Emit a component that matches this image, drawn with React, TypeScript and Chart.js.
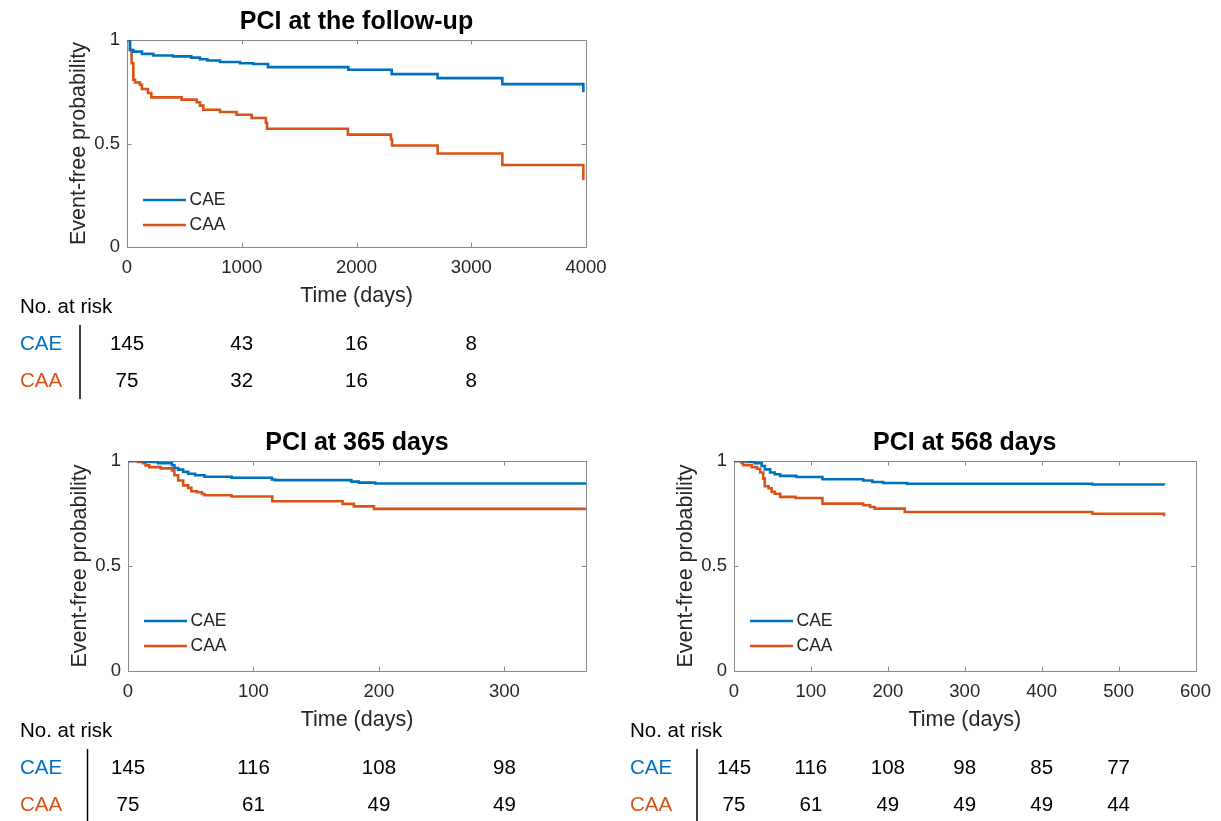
import React, { useEffect, useRef } from 'react';
import { Chart, registerables } from 'chart.js';

Chart.register(...registerables);

const FONT = '"Liberation Sans", Arial, Helvetica, sans-serif';
const BLUE = '#0072BD';
const ORANGE = '#D95319';
const TEXT = '#262626';
const FRAME = '#8a8a8a';

const seriesNames = ['CAE', 'CAA'];

// ---- PCI at the follow-up ----
const fuCaeTimes = [0, 26, 55, 130, 230, 400, 560, 636, 700, 810, 985, 1100, 1229, 1929, 2307, 2707, 3271, 3977];
const fuCaeSurv = [1, 0.952, 0.944, 0.933, 0.925, 0.921, 0.915, 0.907, 0.901, 0.894, 0.888, 0.884, 0.869, 0.856, 0.835, 0.816, 0.787, 0.748];
const fuCaaTimes = [0, 26, 40, 55, 70, 113, 130, 183, 212, 476, 607, 636, 665, 810, 955, 1086, 1210, 1220, 1925, 2300, 2310, 2707, 3271, 3977];
const fuCaaSurv = [1, 0.952, 0.888, 0.808, 0.795, 0.784, 0.763, 0.744, 0.723, 0.712, 0.699, 0.683, 0.663, 0.652, 0.639, 0.623, 0.6, 0.571, 0.543, 0.519, 0.49, 0.452, 0.396, 0.322];
const fuRiskTimes = [0, 1000, 2000, 3000];
const fuRiskCae = [145, 43, 16, 8];
const fuRiskCaa = [75, 32, 16, 8];
const fuXTicks = { max: 4000, step: 1000 };

// ---- PCI at 365 days ----
const d365CaeTimes = [0, 13.5, 24, 35, 37, 40, 44, 48, 53.5, 61, 82.6, 114.7, 117, 178, 184, 197, 365];
const d365CaeSurv = [1, 0.996, 0.99, 0.98, 0.967, 0.959, 0.948, 0.939, 0.932, 0.925, 0.92, 0.912, 0.909, 0.902, 0.897, 0.893, 0.893];
const d365CaaTimes = [0, 8, 12, 14, 17, 26, 35, 37, 40, 44, 48, 50.5, 55, 59, 61, 82.6, 115, 171, 180, 196, 365];
const d365CaaSurv = [1, 0.996, 0.99, 0.979, 0.971, 0.965, 0.955, 0.932, 0.907, 0.884, 0.872, 0.856, 0.851, 0.843, 0.837, 0.831, 0.808, 0.796, 0.784, 0.772, 0.772];
const d365RiskTimes = [0, 100, 200, 300];
const d365RiskCae = [145, 116, 108, 98];
const d365RiskCaa = [75, 61, 49, 49];
const d365XTicks = { max: 365, step: 100 };

// ---- PCI at 568 days ----
const d568CaeTimes = [0, 16, 27, 36, 40, 47, 53, 60, 81, 115, 168, 180, 194, 225, 466, 559];
const d568CaeSurv = [1, 0.996, 0.99, 0.976, 0.96, 0.945, 0.937, 0.929, 0.924, 0.913, 0.907, 0.9, 0.895, 0.892, 0.888, 0.884];
const d568CaaTimes = [0, 10, 12, 23, 30, 34, 38, 40, 45, 49, 53, 60, 80, 115, 168, 177, 183, 222, 466, 559];
const d568CaaSurv = [1, 0.99, 0.98, 0.971, 0.963, 0.945, 0.916, 0.88, 0.87, 0.853, 0.844, 0.829, 0.824, 0.797, 0.789, 0.781, 0.773, 0.757, 0.749, 0.737];
const d568RiskTimes = [0, 100, 200, 300, 400, 500];
const d568RiskCae = [145, 116, 108, 98, 85, 77];
const d568RiskCaa = [75, 61, 49, 49, 49, 44];
const d568XTicks = { max: 600, step: 100 };

type Panel = {
  title: string;
  caeT: number[]; caeS: number[]; caaT: number[]; caaS: number[];
  riskT: number[]; riskCae: number[]; riskCaa: number[];
  xMax: number; xStep: number;
  left: number; top: number; w: number; h: number;
  aLeft: number; aRight: number; aTop: number; aBottom: number;
  sepX: number; titleTop: number;
};

const panels: Panel[] = [
  {
    title: 'PCI at the follow-up',
    caeT: fuCaeTimes, caeS: fuCaeSurv, caaT: fuCaaTimes, caaS: fuCaaSurv,
    riskT: fuRiskTimes, riskCae: fuRiskCae, riskCaa: fuRiskCaa,
    xMax: fuXTicks.max, xStep: fuXTicks.step,
    left: 0, top: 0, w: 610, h: 410,
    aLeft: 127, aRight: 586, aTop: 40, aBottom: 247, sepX: 80, titleTop: 7,
  },
  {
    title: 'PCI at 365 days',
    caeT: d365CaeTimes, caeS: d365CaeSurv, caaT: d365CaaTimes, caaS: d365CaaSurv,
    riskT: d365RiskTimes, riskCae: d365RiskCae, riskCaa: d365RiskCaa,
    xMax: d365XTicks.max, xStep: d365XTicks.step,
    left: 0, top: 420, w: 610, h: 401,
    aLeft: 128, aRight: 586, aTop: 41, aBottom: 251, sepX: 87.5, titleTop: 8,
  },
  {
    title: 'PCI at 568 days',
    caeT: d568CaeTimes, caeS: d568CaeSurv, caaT: d568CaaTimes, caaS: d568CaaSurv,
    riskT: d568RiskTimes, riskCae: d568RiskCae, riskCaa: d568RiskCaa,
    xMax: d568XTicks.max, xStep: d568XTicks.step,
    left: 610, top: 420, w: 611, h: 401,
    aLeft: 124, aRight: 585.5, aTop: 41, aBottom: 251, sepX: 87, titleTop: 8,
  },
];

const X_AXIS_H = 70;
const TICK_LEN = 4.5;
const LINE_W = 2.6;

function makeDecor(p: Panel) {
  return {
    id: 'kmDecor',
    beforeDatasetsDraw(chart: any) {
      const { ctx, chartArea: a, scales } = chart;
      const x = scales.x, y = scales.y;
      ctx.save();
      ctx.strokeStyle = FRAME;
      ctx.lineWidth = 1;
      ctx.strokeRect(Math.round(a.left) + 0.5, Math.round(a.top) + 0.5, Math.round(a.right - a.left), Math.round(a.bottom - a.top));
      ctx.beginPath();
      x.ticks.forEach((t: any) => {
        const px = Math.round(x.getPixelForValue(t.value)) + 0.5;
        ctx.moveTo(px, a.bottom); ctx.lineTo(px, a.bottom - TICK_LEN);
        ctx.moveTo(px, a.top); ctx.lineTo(px, a.top + TICK_LEN);
      });
      y.ticks.forEach((t: any) => {
        const py = Math.round(y.getPixelForValue(t.value)) + 0.5;
        ctx.moveTo(a.left, py); ctx.lineTo(a.left + TICK_LEN, py);
        ctx.moveTo(a.right, py); ctx.lineTo(a.right - TICK_LEN, py);
      });
      ctx.stroke();
      ctx.restore();
    },
    afterDraw(chart: any) {
      const { ctx, chartArea: a, scales } = chart;
      const x = scales.x;
      ctx.save();
      // legend
      const cols = [BLUE, ORANGE];
      ctx.font = `17.5px ${FONT}`;
      ctx.textBaseline = 'middle';
      ctx.textAlign = 'left';
      chart.data.datasets.forEach((ds: any, i: number) => {
        const ly = a.top + 160 + i * 25;
        ctx.strokeStyle = cols[i];
        ctx.lineWidth = LINE_W;
        ctx.beginPath();
        ctx.moveTo(a.left + 16, ly);
        ctx.lineTo(a.left + 59, ly);
        ctx.stroke();
        ctx.fillStyle = TEXT;
        ctx.fillText(ds.label, a.left + 62.5, ly);
      });
      // risk table
      ctx.font = `20.5px ${FONT}`;
      ctx.fillStyle = '#000';
      ctx.fillText('No. at risk', 20, a.bottom + 60);
      const rows = [p.riskCae, p.riskCaa];
      rows.forEach((vals, r) => {
        const ry = a.bottom + 97 + r * 37;
        ctx.textAlign = 'left';
        ctx.fillStyle = cols[r];
        ctx.fillText(seriesNames[r], 20, ry);
        ctx.textAlign = 'center';
        ctx.fillStyle = '#000';
        vals.forEach((v, k) => {
          ctx.fillText(String(v), x.getPixelForValue(p.riskT[k]), ry);
        });
      });
      ctx.strokeStyle = '#000';
      ctx.lineWidth = 1.5;
      ctx.beginPath();
      ctx.moveTo(p.sepX, a.bottom + 78);
      ctx.lineTo(p.sepX, a.bottom + 152);
      ctx.stroke();
      ctx.restore();
    },
  };
}

function KMPanel({ p }: { p: Panel }) {
  const ref = useRef<HTMLCanvasElement>(null);
  useEffect(() => {
    const canvas = ref.current!;
    const fmt = (v: any) => String(v);
    const chart = new Chart(canvas, {
      type: 'line',
      data: {
        datasets: [
          {
            label: seriesNames[0],
            data: p.caeT.map((t, i) => ({ x: t, y: p.caeS[i] })),
            borderColor: BLUE,
            backgroundColor: BLUE,
            borderWidth: LINE_W,
            pointRadius: 0,
            stepped: true,
            fill: false,
          },
          {
            label: seriesNames[1],
            data: p.caaT.map((t, i) => ({ x: t, y: p.caaS[i] })),
            borderColor: ORANGE,
            backgroundColor: ORANGE,
            borderWidth: LINE_W,
            pointRadius: 0,
            stepped: true,
            fill: false,
          },
        ],
      },
      options: {
        animation: false,
        responsive: false,
        devicePixelRatio: 1,
        events: [],
        layout: {
          padding: { left: 0, top: 0, right: p.w - p.aRight, bottom: p.h - p.aBottom - X_AXIS_H },
        },
        plugins: {
          legend: { display: false },
          tooltip: { enabled: false },
          title: {
            display: true,
            text: p.title,
            fullSize: false,
            color: '#000',
            font: { family: FONT, size: 25, weight: 'bold', lineHeight: 1.2 },
            padding: { top: p.titleTop, bottom: p.aTop - 30 - p.titleTop },
          },
        },
        scales: {
          x: {
            type: 'linear',
            min: 0,
            max: p.xMax,
            ticks: {
              stepSize: p.xStep,
              includeBounds: false,
              autoSkip: false,
              maxRotation: 0,
              padding: 9.8,
              color: TEXT,
              font: { family: FONT, size: 18.5, lineHeight: 1.2 },
              callback: fmt,
            },
            grid: { display: false, drawTicks: false },
            border: { display: false },
            title: {
              display: true,
              text: 'Time (days)',
              color: TEXT,
              font: { family: FONT, size: 21.5, lineHeight: 1.2 },
              padding: { top: 0, bottom: 8 },
            },
            afterFit: (s: any) => {
              s.height = X_AXIS_H;
              s.paddingLeft = 0;
              s.paddingRight = 0;
            },
          },
          y: {
            type: 'linear',
            min: 0,
            max: 1,
            ticks: {
              stepSize: 0.5,
              padding: 7,
              color: TEXT,
              font: { family: FONT, size: 18.5, lineHeight: 1.2 },
              callback: fmt,
            },
            grid: { display: false, drawTicks: false },
            border: { display: false },
            title: {
              display: true,
              text: 'Event-free probability',
              color: TEXT,
              font: { family: FONT, size: 21.5, lineHeight: 1.2 },
              padding: { top: p.aLeft - 48 - 12.9, bottom: 0 },
            },
            afterFit: (s: any) => {
              s.width = p.aLeft;
              s.paddingTop = 0;
              s.paddingBottom = 0;
            },
          },
        },
      } as any,
      plugins: [makeDecor(p)],
    });
    return () => chart.destroy();
  }, [p]);
  return (
    <div style={{ position: 'absolute', left: p.left, top: p.top, width: p.w, height: p.h }}>
      <canvas ref={ref} width={p.w} height={p.h} style={{ width: p.w, height: p.h, display: 'block' }} />
    </div>
  );
}

export default function App() {
  return (
    <div style={{ position: 'absolute', left: 0, top: 0, width: 1221, height: 821, background: '#fff', overflow: 'hidden' }}>
      {panels.map((p) => (
        <KMPanel key={p.title} p={p} />
      ))}
    </div>
  );
}
